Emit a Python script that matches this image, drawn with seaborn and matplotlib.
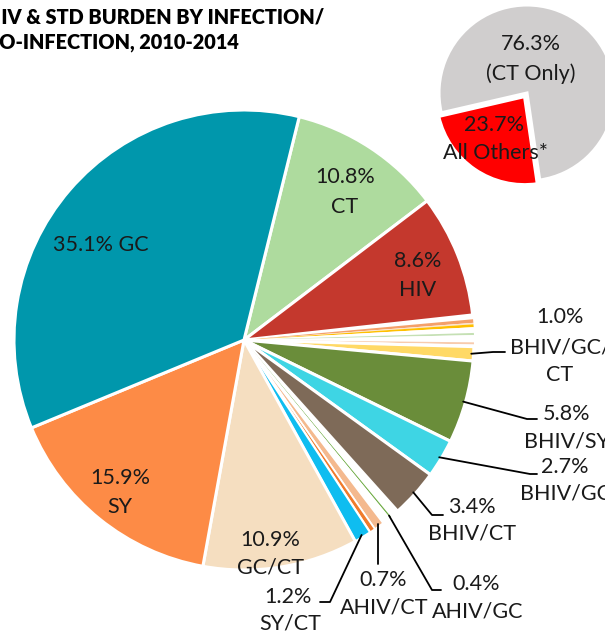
import numpy as np
import matplotlib
matplotlib.use("Agg")
import matplotlib.pyplot as plt
from matplotlib.lines import Line2D
import seaborn as sns

# ---------------- data ----------------
# main pie, clockwise from the GC/CT boundary at the top
slice_names = ["CT", "HIV", "gap1", "o1", "o2", "gold", "gap2", "lgreen", "gap3",
               "lsalmon", "gap4", "BHIV/GC/CT", "BHIV/SY", "BHIV/GC", "BHIV/CT",
               "gap5", "AHIV/GC", "gap6", "AHIV/CT", "orange", "SY/CT",
               "GC/CT", "SY", "GC"]
slice_values = [10.8, 8.6, 0.3, 0.25, 0.1, 0.2, 0.4, 0.15, 0.5,
                0.15, 0.15, 1.0, 5.8, 2.7, 3.4,
                0.6, 0.1, 0.6, 0.7, 0.4, 1.2,
                10.9, 15.9, 35.1]
slice_colors = ["#AEDB9E", "#C4382D", "#FFFFFF", "#F4A06A", "#FBE3CF", "#FFC000",
                "#FFFFFF", "#C5E0B4", "#FFFFFF", "#F8CBAD", "#FFFFFF", "#FFD966",
                "#6A8D3A", "#3ED5E4", "#7E6A58", "#FFFFFF", "#70AD47", "#FFFFFF",
                "#F4B98E", "#F07B2C", "#0FBDF0", "#F5DEC0", "#FD8B46", "#0097AC"]
thin_edge = {"gap1": 0, "o1": 0, "o2": 0, "gold": 0, "gap2": 0, "lgreen": 0,
             "gap3": 0, "lsalmon": 0, "gap4": 0, "gap5": 0, "AHIV/GC": 0,
             "gap6": 0, "AHIV/CT": 1.3, "orange": 1.3, "SY/CT": 1.6}

inner_labels = {"GC": ["35.1% GC"], "CT": ["10.8%", "CT"], "HIV": ["8.6%", "HIV"],
                "SY": ["15.9%", "SY"], "GC/CT": ["10.9%", "GC/CT"]}
outer_labels = {"BHIV/GC/CT": ["1.0%", "BHIV/GC/", "CT"],
                "BHIV/SY": ["5.8%", "BHIV/SY"],
                "BHIV/GC": ["2.7%", "BHIV/GC"],
                "BHIV/CT": ["3.4%", "BHIV/CT"],
                "AHIV/GC": ["0.4%", "AHIV/GC"],
                "AHIV/CT": ["0.7%", "AHIV/CT"],
                "SY/CT": ["1.2%", "SY/CT"]}

# inset pie
inset_names = ["CT Only", "All Others*"]
inset_values = [76.3, 23.7]
inset_colors = ["#D0CECE", "#FF0000"]
inset_labels = [["76.3%", "(CT Only)"], ["23.7%", "All Others*"]]

title_lines = ["HIV & STD BURDEN BY INFECTION/", "CO-INFECTION, 2010-2014"]

# ---------------- style ----------------
sns.set_theme(style="white")
plt.rcParams["font.family"] = ["Lato", "DejaVu Sans"]

W, H = 605, 636
fig = plt.figure(figsize=(W / 100, H / 100), dpi=100)

def fpos(px, py):
    return px / W, 1 - py / H

# main pie axes: center (244,340) radius 230 px
cx, cy, R = 244, 340, 230
ax = fig.add_axes([(cx - R) / W, 1 - (cy + R) / H, 2 * R / W, 2 * R / H])
wedges, _ = ax.pie(slice_values, colors=slice_colors, startangle=76.1,
                   counterclock=False, radius=1.0,
                   wedgeprops=dict(edgecolor="white", linewidth=2.2))
for w, name in zip(wedges, slice_names):
    if name in thin_edge:
        w.set_linewidth(thin_edge[name])
ax.set_xlim(-1, 1)
ax.set_ylim(-1, 1)
ax.set_aspect("equal")
ax.axis("off")

FS = 15.5

# inner label positions (pixel centers of lines)
inner_pos = {"GC": [(101, 245)], "CT": [(345, 177), (345, 207)],
             "HIV": [(418, 261), (418, 290)], "SY": [(120, 478), (120, 507)],
             "GC/CT": [(270, 540), (270, 568)]}
for name, lines in inner_labels.items():
    for txt, (px, py) in zip(lines, inner_pos[name]):
        x, y = fpos(px, py)
        fig.text(x, y, txt, ha="center", va="center", fontsize=FS, color="#1a1a1a")

# outer labels: text line centers, leader path (elbow, end)
outer_text_pos = {"BHIV/GC/CT": [(560, 317), (560, 347), (560, 375)],
                  "BHIV/SY": [(567, 414), (567, 441)],
                  "BHIV/GC": [(565, 467), (565, 494)],
                  "BHIV/CT": [(472, 507), (472, 534)],
                  "AHIV/GC": [(476, 584), (478, 611)],
                  "AHIV/CT": [(383, 580), (384, 607)],
                  "SY/CT": [(288, 597), (290, 624)]}
outer_path = {"BHIV/GC/CT": [(493, 352), (505, 352)],
              "BHIV/SY": [(527, 419), (537, 419)],
              "BHIV/GC": [(530, 474), (537, 474)],
              "BHIV/CT": [(432, 515), (443, 515)],
              "AHIV/GC": [(432, 590), (441, 590)],
              "AHIV/CT": [None],
              "SY/CT": [(330, 602), (320, 602)]}

to_fig = fig.transFigure.inverted()
for w, name in zip(wedges, slice_names):
    if name not in outer_labels:
        continue
    mid = np.deg2rad((w.theta1 + w.theta2) / 2)
    start_disp = ax.transData.transform((np.cos(mid) * 0.99, np.sin(mid) * 0.99))
    sx, sy = to_fig.transform(start_disp)
    pts = [(sx, sy)]
    for p in outer_path[name]:
        if p is None:
            pts.append((sx, fpos(0, 564)[1]))
        else:
            pts.append(fpos(*p))
    xs, ys = zip(*pts)
    fig.add_artist(Line2D(xs, ys, transform=fig.transFigure, color="black", lw=1.3))
    for txt, (px, py) in zip(outer_labels[name], outer_text_pos[name]):
        x, y = fpos(px, py)
        fig.text(x, y, txt, ha="center", va="center", fontsize=FS, color="#1a1a1a")

# inset pie: center (527,93) radius 88
icx, icy, iR = 527, 93, 88
ax2 = fig.add_axes([(icx - iR) / W, 1 - (icy + iR) / H, 2 * iR / W, 2 * iR / H])
ax2.pie(inset_values, colors=inset_colors, startangle=-167, counterclock=False,
        explode=[0, 0.05], radius=1.0,
        wedgeprops=dict(edgecolor="white", linewidth=2.2))
ax2.set_xlim(-1, 1)
ax2.set_ylim(-1, 1)
ax2.set_aspect("equal")
ax2.axis("off")

inset_pos = [[(531, 44), (531, 74)], [(494, 125), (495, 153)]]
for lines, poss in zip(inset_labels, inset_pos):
    for txt, (px, py) in zip(lines, poss):
        x, y = fpos(px, py)
        fig.text(x, y, txt, ha="center", va="center", fontsize=FS, color="#1a1a1a")

# title (left part clipped by the figure edge, as in the reference)
for txt, py in zip(title_lines, [17, 42]):
    x, y = fpos(-14, py)
    fig.text(x, y, txt, ha="left", va="center", fontsize=14.3, fontweight="heavy",
             color="black")

fig.savefig("out.png", dpi=100)
